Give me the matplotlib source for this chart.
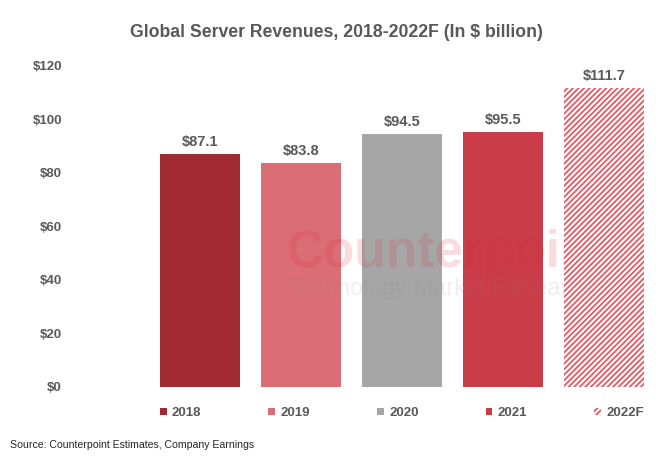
import matplotlib.pyplot as plt
import numpy as np

plt.rcParams['font.family'] = ['Liberation Sans', 'DejaVu Sans']
plt.rcParams['hatch.linewidth'] = 1.3

years = ["2018", "2019", "2020", "2021", "2022F"]
revenue = [87.1, 83.8, 94.5, 95.5, 111.7]
labels = ["$87.1", "$83.8", "$94.5", "$95.5", "$111.7"]
colors = ["#A12A33", "#DA6D76", "#A6A6A6", "#C93C48", "white"]
yticks = [0, 20, 40, 60, 80, 100, 120]

txt = "#595959"

fig = plt.figure(figsize=(6.7, 4.72), dpi=100)
ax = fig.add_axes([0.2231, 0.1801, 0.7537, 0.6801])

x = np.arange(len(years))
for i in range(len(years)):
    if years[i].endswith("F"):
        ax.bar(x[i], revenue[i], width=0.79, color="white", edgecolor="#E35A64",
               hatch="//////", linewidth=0, label=years[i], zorder=4)
    else:
        ax.bar(x[i], revenue[i], width=0.79, color=colors[i], label=years[i], zorder=2)
    ax.annotate(labels[i], (x[i], revenue[i]), xytext=(0, 3.5), textcoords="offset points",
                ha="center", va="bottom", fontsize=10.5, fontweight="bold", color=txt)

# faint watermark
ax.text(0.86, 50, "Counterpoint", fontsize=37, fontweight="bold", color="#E03040",
        alpha=0.17, va="center", ha="left", zorder=3)
ax.text(0.86, 36.5, "Technology Market Research", fontsize=17, color="#808080",
        alpha=0.12, va="center", ha="left", zorder=3)

ax.set_xlim(-0.5, 4.5)
ax.set_ylim(0, 120)
ax.set_yticks(yticks)
ax.set_yticklabels(["$" + str(v) for v in yticks], fontsize=9.5, fontweight="bold", color=txt)
ax.set_xticks([])
ax.tick_params(axis="y", length=0, pad=63)
for s in ax.spines.values():
    s.set_visible(False)

fig.text(0.5015, 0.932, "Global Server Revenues, 2018-2022F (In $ billion)", ha="center",
         va="center", fontsize=12.7, fontweight="bold", color=txt)

leg = ax.legend(loc="center", bbox_to_anchor=(0.5, -0.082), ncol=5, frameon=False,
                prop={"size": 9.5, "weight": "bold"}, handlelength=0.5, handleheight=0.5,
                handletextpad=0.4, columnspacing=5.1, borderaxespad=0)
for t in leg.get_texts():
    t.set_color(txt)

fig.text(0.015, 0.057, "Source: Counterpoint Estimates, Company Earnings", ha="left",
         va="center", fontsize=7.6, color="#262626")

fig.savefig("out.png", dpi=100)
